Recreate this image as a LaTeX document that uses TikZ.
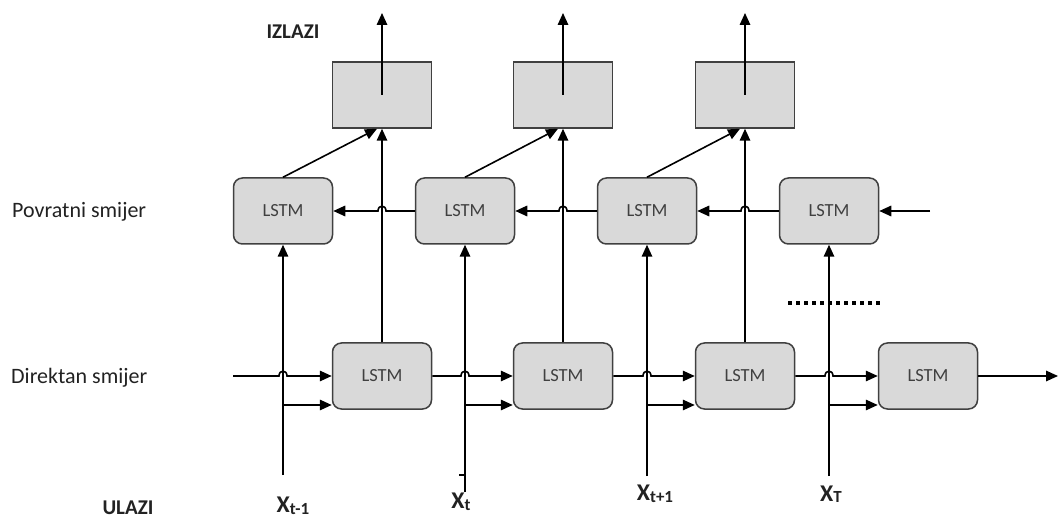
\documentclass[tikz,border=0pt]{standalone}
\usepackage{fontspec}
\setmainfont{Carlito}
\usetikzlibrary{arrows.meta,calc}
\definecolor{boxfill}{HTML}{D9D9D9}
\definecolor{boxline}{HTML}{404040}
\definecolor{txt}{HTML}{222222}
\newcommand{\xlab}[1]{\textbf{X}\raisebox{-1.5pt}{\fontsize{17}{17}\selectfont\textbf{#1}}}
\begin{document}
\begin{tikzpicture}[x=1pt,y=-1pt,
  lstm/.style={draw=boxline,fill=boxfill,line width=1.5pt,rounded corners=9pt,minimum width=99pt,minimum height=66pt,inner sep=0pt,font=\fontsize{18.5}{18.5}\selectfont,text=boxline},
  outbox/.style={draw=boxline,fill=boxfill,line width=1.5pt,minimum width=99pt,minimum height=66pt,inner sep=0pt},
  conn/.style={line width=1.6pt,draw=black},
  arr/.style={conn,-{Triangle[length=12pt,width=10.5pt]}},
  lab/.style={font=\fontsize{22}{22}\selectfont,text=txt,inner sep=0pt},
  blab/.style={font=\fontsize{21}{21}\selectfont\bfseries,text=txt,inner sep=0pt},
  xl/.style={font=\fontsize{24}{24}\selectfont,text=txt,inner sep=0pt}
]
\useasboundingbox (0,0) rectangle (1060,518);
% output boxes
\node[outbox] (o1) at (382,95) {};
\node[outbox] (o2) at (563,95) {};
\node[outbox] (o3) at (745,95) {};
% backward LSTMs
\node[lstm] (b1) at (283,211) {LSTM};
\node[lstm] (b2) at (465,211) {LSTM};
\node[lstm] (b3) at (647,211) {LSTM};
\node[lstm] (b4) at (829,211) {LSTM};
% forward LSTMs
\node[lstm] (f1) at (382,376) {LSTM};
\node[lstm] (f2) at (563,376) {LSTM};
\node[lstm] (f3) at (745,376) {LSTM};
\node[lstm] (f4) at (928,376) {LSTM};
% labels
\node[blab] (izl) at (293,32) {IZLAZI};
\node[blab] (ul) at (128,508) {ULAZI};
\node[lab,anchor=west] (pov) at (12,212) {Povratni smijer};
\node[lab,anchor=west] (dir) at (11,378) {Direktan smijer};
\node[xl] (x1) at (293,506) {\xlab{t-1}};
\node[xl] (x2) at (461,502) {\xlab{t}};
\node[xl] (x3) at (655,494) {\xlab{t+1}};
\node[xl] (x4) at (831,494) {\xlab{T}};
% input line start coordinates
\coordinate (i1) at (283,475);
\coordinate (i2) at (465,492);
\coordinate (i3) at (647,476);
\coordinate (i4) at (829,476);
% input verticals
\draw[arr] (i1) -- (i1 |- b1.south);
\draw[arr] (i2) -- (i2 |- b2.south);
\draw[arr] (i3) -- (i3 |- b3.south);
\draw[arr] (i4) -- (i4 |- b4.south);
\coordinate (tk) at (459,475);
\draw[conn] (tk) -- (tk -| i2);
% branches to forward boxes
\draw[arr] (i1 |- 0,405) -- (f1.west |- 0,405);
\draw[arr] (i2 |- 0,405) -- (f2.west |- 0,405);
\draw[arr] (i3 |- 0,405) -- (f3.west |- 0,405);
\draw[arr] (i4 |- 0,405) -- (f4.west |- 0,405);
% forward chain with hops
\coordinate (fs) at (233,376);
\coordinate (fe) at (1058,376);
\draw[arr] (fs) -- (279,376) .. controls (279,369.5) and (287,369.5) .. (287,376) -- (f1.west);
\draw[arr] (f1.east) -- (461,376) .. controls (461,369.5) and (469,369.5) .. (469,376) -- (f2.west);
\draw[arr] (f2.east) -- (643,376) .. controls (643,369.5) and (651,369.5) .. (651,376) -- (f3.west);
\draw[arr] (f3.east) -- (825,376) .. controls (825,369.5) and (833,369.5) .. (833,376) -- (f4.west);
\draw[arr] (f4.east) -- (fe);
% backward chain with hops
\coordinate (bs) at (930,211);
\draw[arr] (bs) -- (b4.east);
\draw[arr] (b4.west) -- (749,211) .. controls (749,204.5) and (741,204.5) .. (741,211) -- (b3.east);
\draw[arr] (b3.west) -- (567,211) .. controls (567,204.5) and (559,204.5) .. (559,211) -- (b2.east);
\draw[arr] (b2.west) -- (386,211) .. controls (386,204.5) and (378,204.5) .. (378,211) -- (b1.east);
% forward to outputs
\draw[arr] (f1.north) -- (o1.south);
\draw[arr] (f2.north) -- (o2.south);
\draw[arr] (f3.north) -- (o3.south);
% backward to outputs
\draw[arr] (b1.north) -- ($(o1.south)+(-5,0)$);
\draw[arr] (b2.north) -- ($(o2.south)+(-5,0)$);
\draw[arr] (b3.north) -- ($(o3.south)+(-5,0)$);
% output arrows
\coordinate (u1) at (382,13);
\coordinate (u2) at (563,13);
\coordinate (u3) at (745,13);
\draw[arr] (o1.center) -- (u1);
\draw[arr] (o2.center) -- (u2);
\draw[arr] (o3.center) -- (u3);
% dotted line
\coordinate (d1) at (788,303);
\coordinate (d2) at (884,303);
\draw[line width=3.5pt,dash pattern=on 3.5pt off 4.5pt] (d1) -- (d2);
\end{tikzpicture}
\end{document}
